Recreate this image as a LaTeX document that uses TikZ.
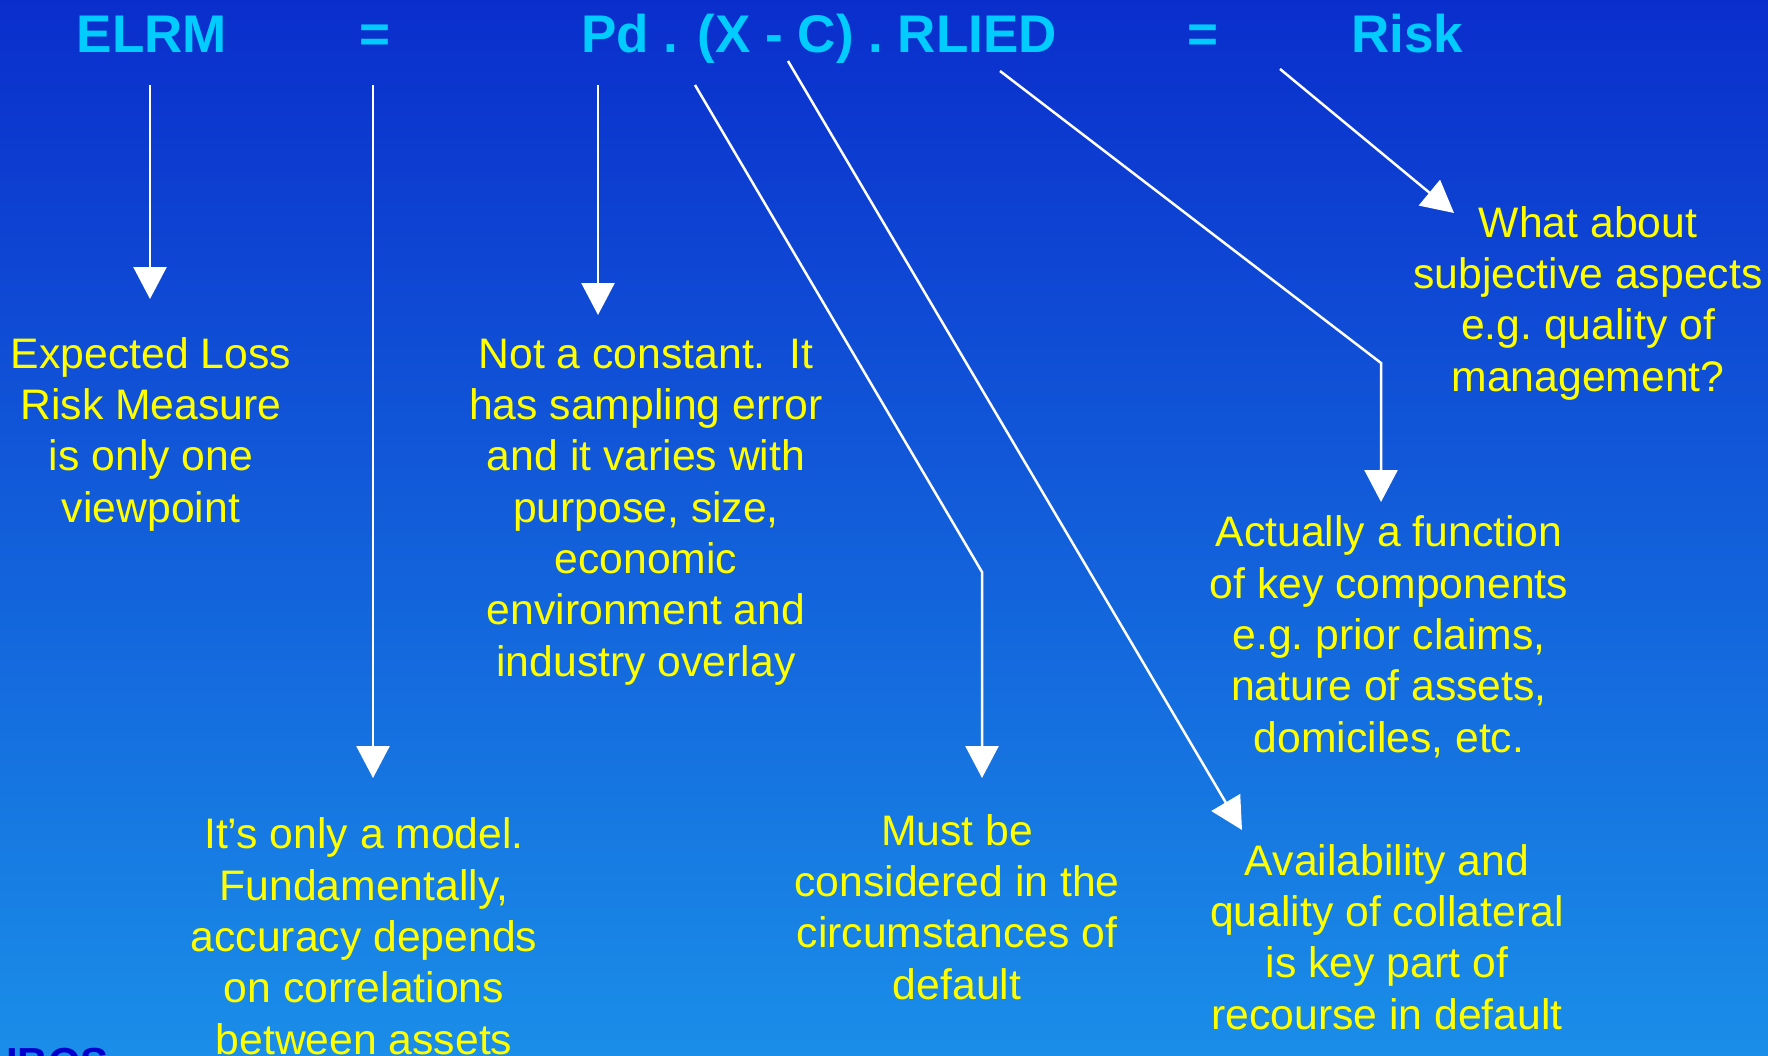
\documentclass[tikz,border=0pt]{standalone}
\usepackage{fontspec}
\setmainfont{Liberation Sans}
\usetikzlibrary{arrows.meta}

\definecolor{bgtop}{HTML}{0A2ECC}
\definecolor{bgmid}{HTML}{1370DE}
\definecolor{bgbot}{HTML}{1A8EE8}
\definecolor{titlecyan}{HTML}{00CCFF}
\definecolor{noteyellow}{HTML}{FFFF00}
\definecolor{logoblue}{HTML}{0000CC}

\tikzset{
  titletext/.style={font=\fontsize{53}{63}\selectfont\bfseries, text=titlecyan, inner sep=0pt, anchor=base},
  % notes are placed by the baseline of their last line
  note/.style={font=\fontsize{42.7}{51.3}\selectfont, text=noteyellow, align=center, inner sep=0pt, anchor=base},
  ptr/.style={draw=white, line width=2.5pt, -{Triangle[length=32pt,width=33pt]}},
}

\begin{document}
\begin{tikzpicture}[x=1pt,y=-1pt]
  \useasboundingbox (0,0) rectangle (1768,1055);
  \shade[top color=bgtop, middle color=bgmid, bottom color=bgbot] (0,0) rectangle (1768,1055);

  % equation along the top
  \node[titletext] (elrm) at (152,52) {ELRM};
  \node[titletext] (eqa) at (375,52) {=};
  \node[titletext] (formula) at (819,52) {Pd . (X - C) . RLIED};
  \node[titletext] (eqb) at (1203,52) {=};
  \node[titletext] (risk) at (1407,52) {Risk};

  % comments on each term
  \node[note] (loss) at (151,522) {Expected Loss\\Risk Measure\\is only one\\viewpoint};
  \node[note] (pd) at (646,676) {Not a constant.\ \ It\\has sampling error\\and it varies with\\purpose, size,\\economic\\environment and\\industry overlay};
  \node[note] (subj) at (1588,391) {What about\\subjective aspects\\e.g.\ quality of\\management?};
  \node[note] (rlied) at (1389,752) {Actually a function\\of key components\\e.g.\ prior claims,\\nature of assets,\\domiciles, etc.};
  \node[note] (model) at (364,1054) {It’s only a model.\\Fundamentally,\\accuracy depends\\on correlations\\between assets};
  \node[note] (dflt) at (957,999) {Must be\\considered in the\\circumstances of\\default};
  \node[note] (coll) at (1387,1029) {Availability and\\quality of collateral\\is key part of\\recourse in default};

  % partly visible logo at the lower edge
  \node[font=\fontsize{42}{50}\selectfont\bfseries, text=logoblue, inner sep=0pt, anchor=base west] (logo) at (6,1077) {IBOS};

  % connector ends
  \coordinate (s1) at (150,85);   \coordinate (t1) at (150,299);
  \coordinate (s2) at (373,85);   \coordinate (t2) at (373,778);
  \coordinate (s3) at (598,85);   \coordinate (t3) at (598,315);
  \coordinate (s4) at (695,85);   \coordinate (b4) at (982,572);  \coordinate (t4) at (982,778);
  \coordinate (s5) at (788,61);   \coordinate (t5) at (1242,830);
  \coordinate (s6) at (1000,71);  \coordinate (b6) at (1381,363); \coordinate (t6) at (1381,502);
  \coordinate (s7) at (1280,69);  \coordinate (t7) at (1454,213);

  \draw[ptr] (s1) -- (t1);
  \draw[ptr] (s2) -- (t2);
  \draw[ptr] (s3) -- (t3);
  \draw[ptr] (s4) -- (b4) -- (t4);
  \draw[ptr] (s5) -- (t5);
  \draw[ptr] (s6) -- (b6) -- (t6);
  \draw[ptr] (s7) -- (t7);
\end{tikzpicture}
\end{document}
